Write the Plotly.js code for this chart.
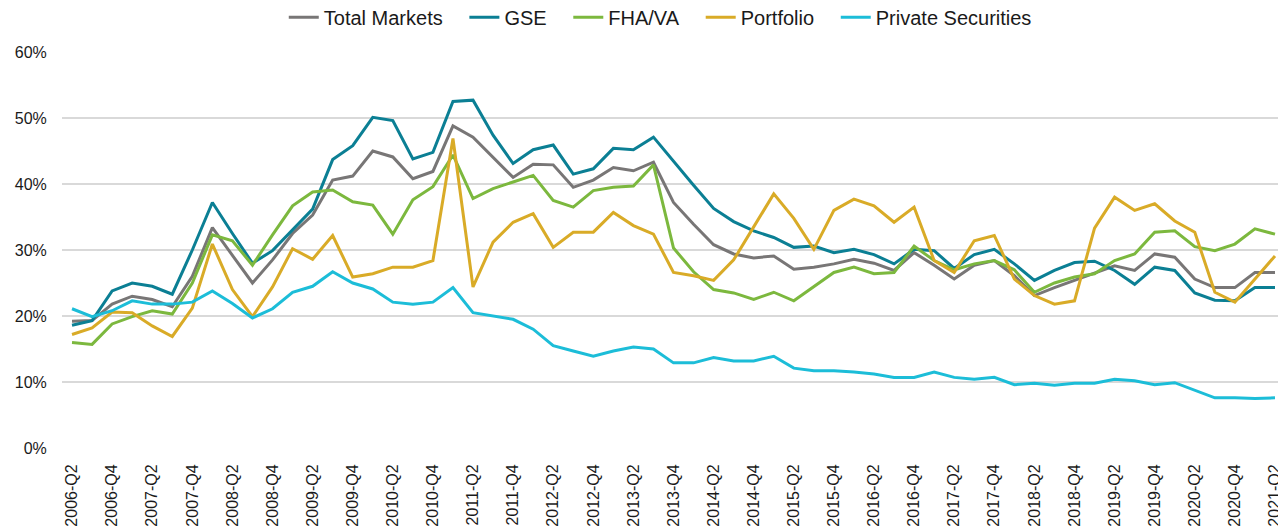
<!DOCTYPE html>
<html>
<head>
<meta charset="utf-8">
<script src="https://cdn.plot.ly/plotly-3.0.1.min.js"></script>
<style>
  html, body { margin: 0; padding: 0; background: #fff; }
  #chart { width: 1278px; height: 528px; }
</style>
</head>
<body>
<div id="chart"></div>
<script>
const quarters = [
  "2006-Q2","2006-Q3","2006-Q4",
  "2007-Q1","2007-Q2","2007-Q3","2007-Q4",
  "2008-Q1","2008-Q2","2008-Q3","2008-Q4",
  "2009-Q1","2009-Q2","2009-Q3","2009-Q4",
  "2010-Q1","2010-Q2","2010-Q3","2010-Q4",
  "2011-Q1","2011-Q2","2011-Q3","2011-Q4",
  "2012-Q1","2012-Q2","2012-Q3","2012-Q4",
  "2013-Q1","2013-Q2","2013-Q3","2013-Q4",
  "2014-Q1","2014-Q2","2014-Q3","2014-Q4",
  "2015-Q1","2015-Q2","2015-Q3","2015-Q4",
  "2016-Q1","2016-Q2","2016-Q3","2016-Q4",
  "2017-Q1","2017-Q2","2017-Q3","2017-Q4",
  "2018-Q1","2018-Q2","2018-Q3","2018-Q4",
  "2019-Q1","2019-Q2","2019-Q3","2019-Q4",
  "2020-Q1","2020-Q2","2020-Q3","2020-Q4",
  "2021-Q1","2021-Q2"
];

const tickLabels = [
  "2006-Q2","2006-Q4","2007-Q2","2007-Q4","2008-Q2","2008-Q4",
  "2009-Q2","2009-Q4","2010-Q2","2010-Q4","2011-Q2","2011-Q4",
  "2012-Q2","2012-Q4","2013-Q2","2013-Q4","2014-Q2","2014-Q4",
  "2015-Q2","2015-Q4","2016-Q2","2016-Q4","2017-Q2","2017-Q4",
  "2018-Q2","2018-Q4","2019-Q2","2019-Q4","2020-Q2","2020-Q4","2021-Q2"
];

// values in percent
const totalMarkets = [
  19.2,19.3,21.8,23.0,22.5,21.4,26.0,33.4,29.2,25.0,28.5,32.5,35.3,40.6,41.2,45.0,
  44.1,40.8,41.9,48.8,47.1,44.0,41.0,43.0,42.9,39.5,40.6,42.5,42.0,43.3,37.2,33.9,
  30.8,29.4,28.8,29.1,27.1,27.4,27.9,28.6,28.0,26.9,29.6,27.7,25.6,27.7,28.4,26.1,
  23.1,24.3,25.4,26.6,27.6,26.9,29.4,28.9,25.6,24.3,24.3,26.6,26.6
];
const gse = [
  18.6,19.3,23.8,25.0,24.5,23.3,30.0,37.2,32.5,28.0,29.9,33.0,36.2,43.7,45.8,50.1,
  49.6,43.8,44.8,52.5,52.7,47.4,43.1,45.2,45.9,41.5,42.3,45.4,45.2,47.1,43.4,39.8,
  36.3,34.3,32.9,31.9,30.4,30.6,29.6,30.1,29.3,27.9,30.1,29.9,27.2,29.3,30.1,27.9,
  25.4,26.9,28.1,28.3,26.9,24.8,27.4,26.9,23.5,22.4,22.3,24.3,24.3
];
const fhaVa = [
  16.0,15.7,18.8,19.9,20.8,20.3,25.0,32.3,31.4,27.7,32.3,36.7,38.8,39.1,37.3,36.8,
  32.4,37.6,39.6,44.4,37.8,39.3,40.3,41.3,37.5,36.5,39.0,39.5,39.7,42.9,30.3,26.7,
  24.0,23.5,22.5,23.6,22.3,24.5,26.6,27.4,26.4,26.6,30.6,28.4,27.0,27.9,28.4,27.0,
  23.6,25.0,25.9,26.4,28.4,29.4,32.7,32.9,30.5,29.9,30.9,33.2,32.4
];
const portfolio = [
  17.2,18.2,20.6,20.5,18.5,16.9,21.2,30.9,24.0,19.9,24.4,30.2,28.6,32.2,25.9,26.4,
  27.4,27.4,28.4,46.9,24.4,31.2,34.2,35.5,30.4,32.7,32.7,35.7,33.7,32.4,26.6,26.1,
  25.4,28.5,33.5,38.5,34.8,30.1,36.0,37.7,36.7,34.2,36.5,28.4,26.6,31.4,32.2,25.6,
  23.1,21.8,22.3,33.3,38.0,36.0,37.0,34.4,32.7,23.6,22.1,25.6,29.1
];
const privateSecurities = [
  21.1,19.9,20.8,22.3,21.8,21.8,22.1,23.8,21.9,19.7,21.1,23.6,24.5,26.7,25.0,24.1,
  22.1,21.8,22.1,24.3,20.5,20.0,19.5,18.0,15.5,14.7,13.9,14.7,15.3,15.0,12.9,12.9,
  13.7,13.2,13.2,13.9,12.1,11.7,11.7,11.5,11.2,10.7,10.7,11.5,10.7,10.4,10.7,9.6,
  9.8,9.5,9.8,9.8,10.4,10.2,9.6,9.9,8.7,7.6,7.6,7.5,7.6
];

const seriesNames = ["Total Markets","GSE","FHA/VA","Portfolio","Private Securities"];
const seriesValues = [totalMarkets, gse, fhaVa, portfolio, privateSecurities];
const seriesColors = ["#787676","#0b7f94","#7cb83e","#d9ab27","#1cbdd8"];

const pad = "\u00a0\u00a0\u00a0";
const traces = seriesNames.map((name, k) => ({
  type: "scatter",
  mode: "lines",
  name: k < seriesNames.length - 1 ? name + pad : name,
  x: quarters,
  y: seriesValues[k].map(v => v / 100),
  line: { color: seriesColors[k], width: 3 },
  hovertemplate: name + ": %{y:.1%}<extra></extra>"
}));

const font = "Liberation Sans, Arial, sans-serif";

const layout = {
  width: 1278,
  height: 528,
  margin: { l: 62, r: 0, t: 52, b: 80, autoexpand: false },
  paper_bgcolor: "#ffffff",
  plot_bgcolor: "#ffffff",
  font: { family: font, color: "#1a1a1a", size: 16 },
  showlegend: true,
  legend: {
    orientation: "h",
    x: 0.492,
    xanchor: "center",
    y: 1.088,
    yanchor: "middle",
    font: { family: font, size: 20, color: "#1a1a1a" },
    itemwidth: 30
  },
  xaxis: {
    type: "category",
    range: [-0.5, 60.15],
    tickmode: "array",
    tickvals: tickLabels,
    ticktext: tickLabels,
    tickangle: -90,
    ticks: "outside",
    ticklen: 9,
    tickcolor: "rgba(0,0,0,0)",
    showgrid: false,
    showline: false,
    zeroline: false,
    automargin: false,
    tickfont: { family: font, size: 16, color: "#1a1a1a" }
  },
  yaxis: {
    range: [0, 0.6],
    dtick: 0.1,
    tick0: 0,
    tickformat: ".0%",
    ticks: "outside",
    ticklen: 11,
    tickcolor: "rgba(0,0,0,0)",
    showgrid: true,
    gridcolor: "#d9d9d9",
    gridwidth: 1.5,
    zeroline: false,
    showline: false,
    automargin: false,
    tickfont: { family: font, size: 16, color: "#1a1a1a" }
  }
};

Plotly.newPlot("chart", traces, layout, { displayModeBar: false, responsive: false });
</script>
</body>
</html>
